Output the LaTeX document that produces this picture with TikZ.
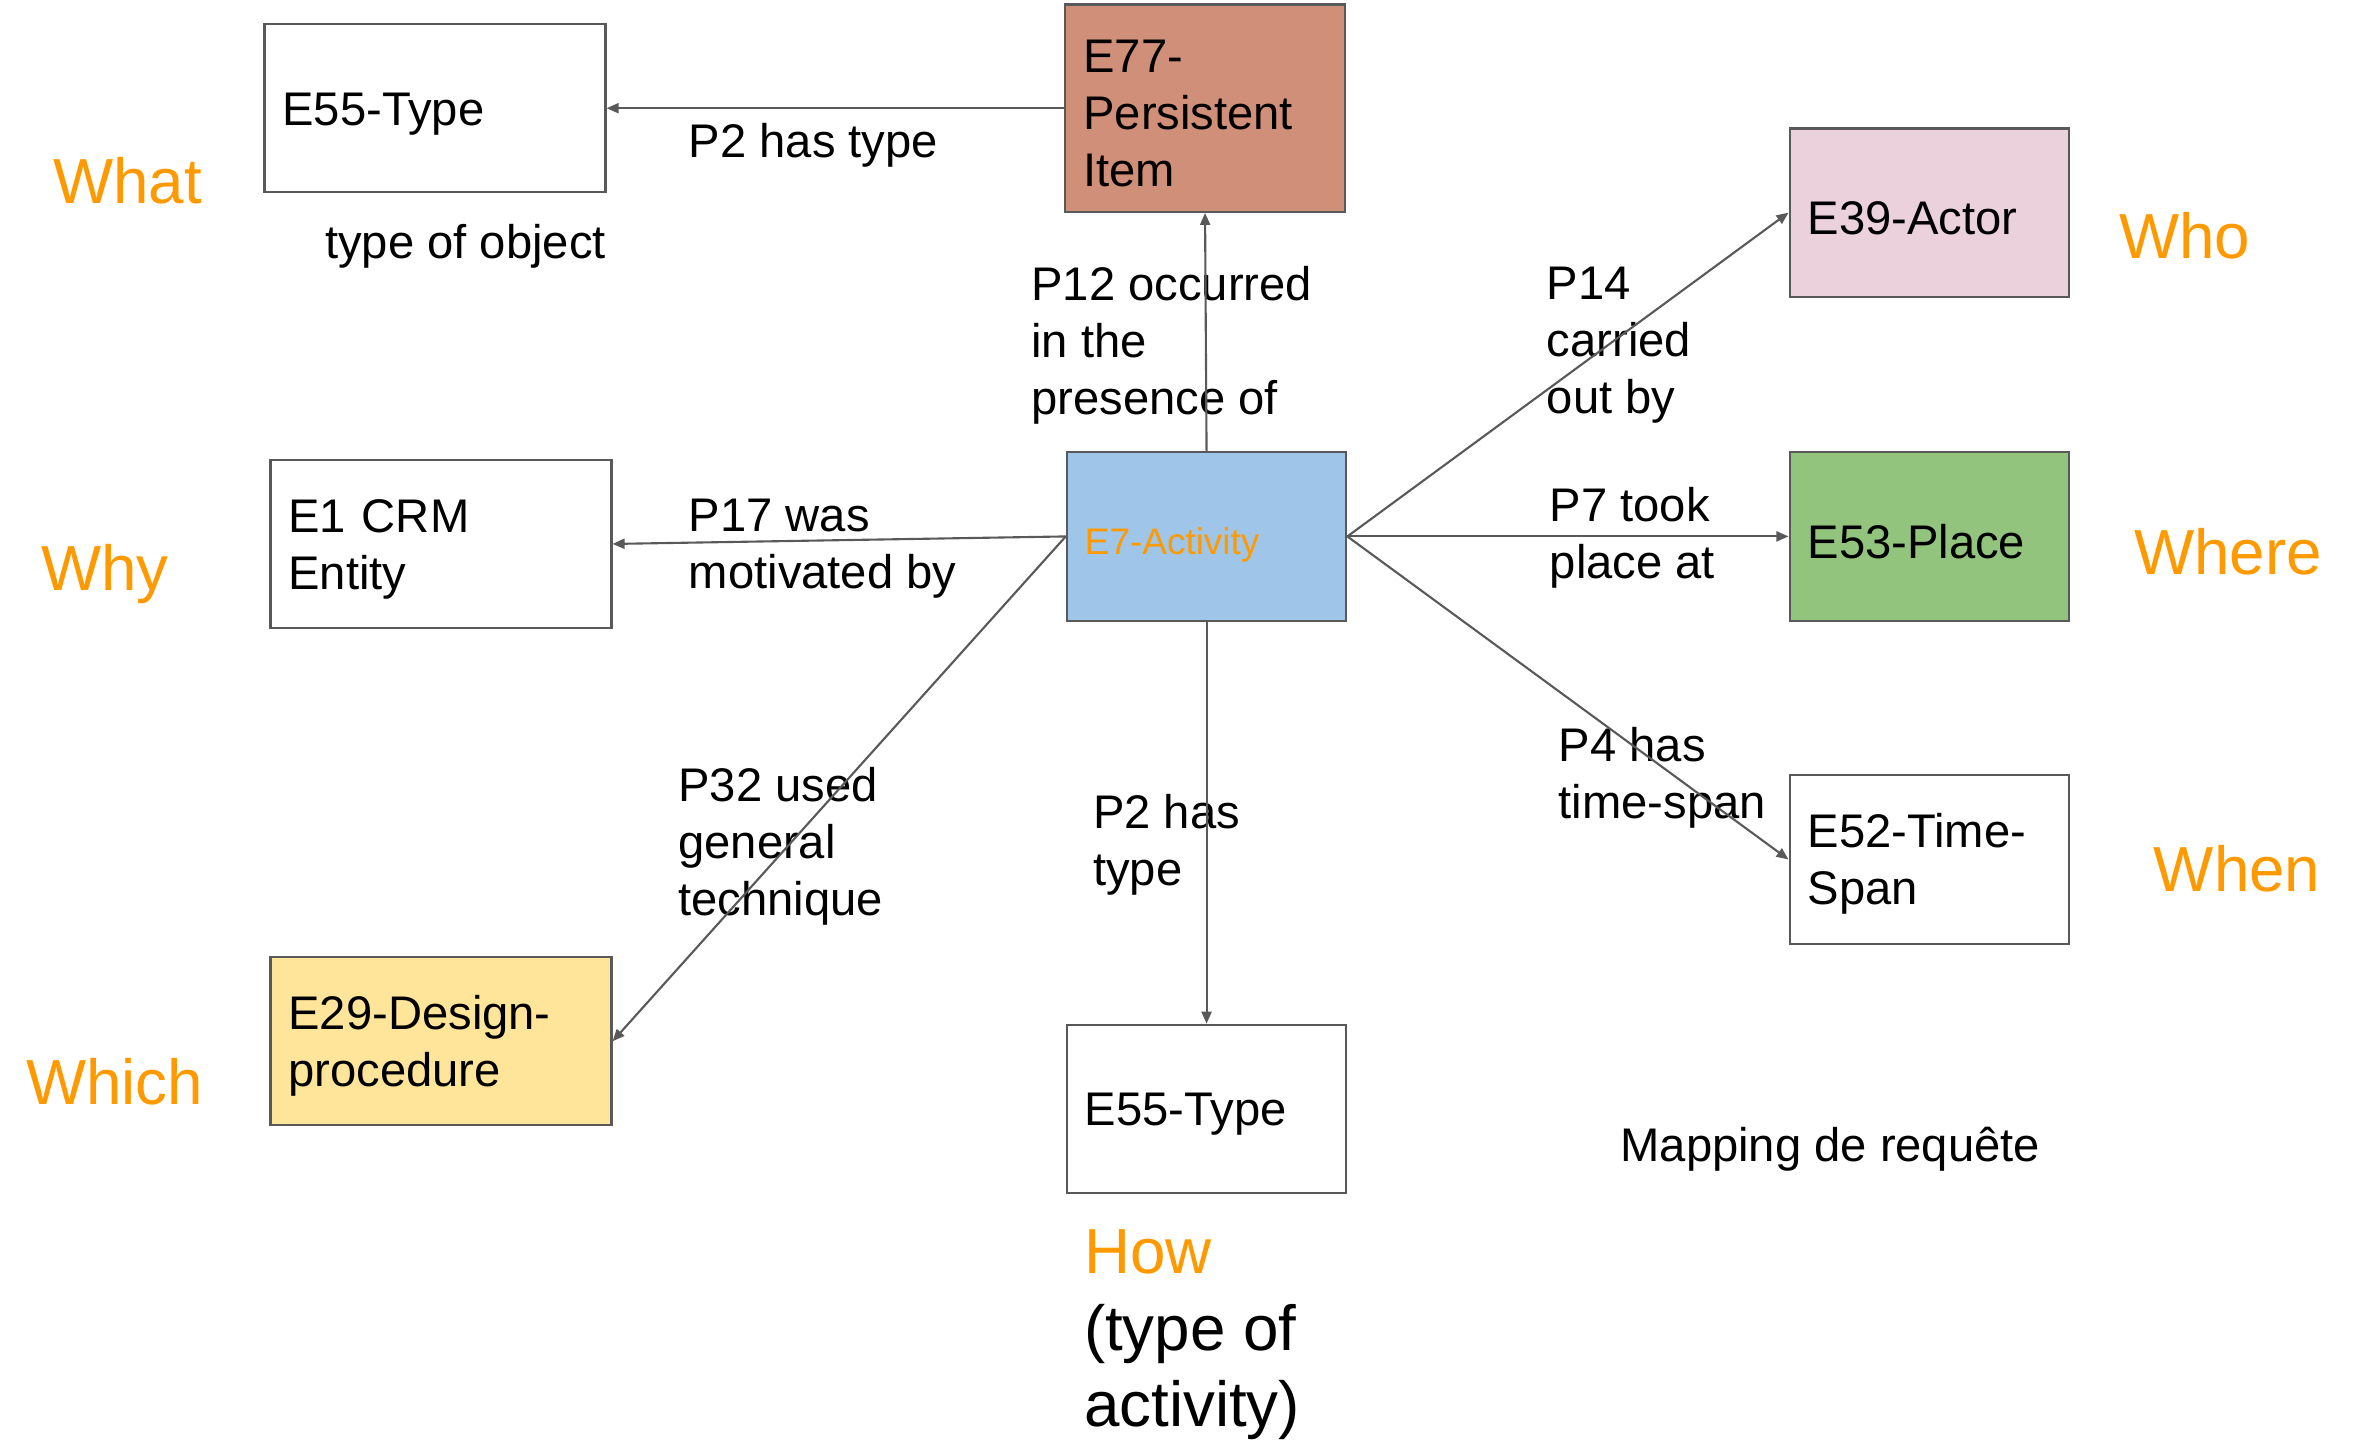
\documentclass[tikz,border=0pt]{standalone}
\usepackage{fontspec}
\setmainfont{Liberation Sans}
\usetikzlibrary{arrows.meta}
\definecolor{brd}{HTML}{595959}
\definecolor{org}{HTML}{FF9900}
\definecolor{cEse}{HTML}{CF8F78}
\definecolor{cEact}{HTML}{EAD1DC}
\definecolor{cEpl}{HTML}{93C47D}
\definecolor{cEdp}{HTML}{FFE599}
\definecolor{cEac}{HTML}{9FC5E8}
\begin{document}
\begin{tikzpicture}[x=0.015cm,y=-0.015cm,
 ent/.style={draw=brd, line width=0.6pt, minimum height=1.68cm, inner xsep=0.18cm, inner ysep=0pt, align=left, font=\fontsize{13.4}{16.2}\selectfont, execute at begin node={\rule{0pt}{12.4pt}}},
 entl/.style={ent, text width=3.045cm},
 entr/.style={ent, text width=2.43cm},
 lbl/.style={anchor=west, inner sep=0pt, align=left, font=\fontsize{13.4}{16.2}\selectfont},
 wq/.style={anchor=west, inner sep=0pt, text=org, font=\fontsize{18.1}{22}\selectfont},
 rel/.style={draw=brd, line width=0.6pt, -{Triangle[length=1.2mm,width=1mm]}},
]
\useasboundingbox (0,0) rectangle (1568,959);

% entity boxes
\node[entl] (e55a) at (289.5,72) {E55-Type};
\node[entr, fill=cEse, minimum height=2.07cm] (e77) at (802,72) {E77-\\Persistent\\Item};
\node[entr, fill=cEact] (e39) at (1284,141.5) {E39-Actor};
\node[entl] (e1) at (293.5,362) {E1 CRM\\Entity};
\node[entr, fill=cEac, font=\fontsize{10.5}{12.6}\selectfont, text=org, execute at begin node={\rule{0pt}{10.6pt}}] (e7) at (803,357) {E7-Activity};
\node[entr, fill=cEpl] (e53) at (1284,357) {E53-Place};
\node[entr] (e52) at (1284,572) {E52-Time-\\Span};
\node[entl, fill=cEdp] (e29) at (293.5,693) {E29-Design-\\procedure};
\node[entr] (e55b) at (803,738) {E55-Type};

% question words
\node[wq] (what) at (35,120) {What};
\node[wq] (why) at (27,382) {Why};
\node[wq] (which) at (17,720) {Which};
\node[wq] (who) at (1410,157) {Who};
\node[wq] (where) at (1420,367) {Where};
\node[wq] (when) at (1433,578) {When};
\node[lbl, font=\fontsize{18.1}{21.7}\selectfont] (how) at (721,888.5) {\textcolor{org}{How}\\(type of\\activity)};

% other labels
\node[lbl] (tobj) at (216,164) {type of object};
\node[lbl] (mapr) at (1078,765) {Mapping de requête};

% relation labels
\node[lbl] (lp2a) at (458,97) {P2 has type};
\node[lbl] (lp12) at (686,229.5) {P12 occurred\\in the\\presence of};
\node[lbl] (lp14) at (1029,229.5) {P14\\carried\\out by};
\node[lbl] (lp17) at (458,365) {P17 was\\motivated by};
\node[lbl] (lp7) at (1031,358) {P7 took\\place at};
\node[lbl] (lp32) at (451,563) {P32 used\\general\\technique};
\node[lbl] (lp2b) at (727,562) {P2 has\\type};
\node[lbl] (lp4) at (1037,517.5) {P4 has\\time-span};

% relations
\draw[rel] (e77.west) -- (e55a.east);
\draw[rel] (e7.north) -- (e77.south);
\draw[rel] (e7.west) -- (e1.east);
\draw[rel] (e7.west) -- (e29.east);
\draw[rel] (e7.east) -- (e39.west);
\draw[rel] (e7.east) -- (e53.west);
\draw[rel] (e7.east) -- (e52.west);
\draw[rel] (e7.south) -- (e55b.north);
\end{tikzpicture}
\end{document}
